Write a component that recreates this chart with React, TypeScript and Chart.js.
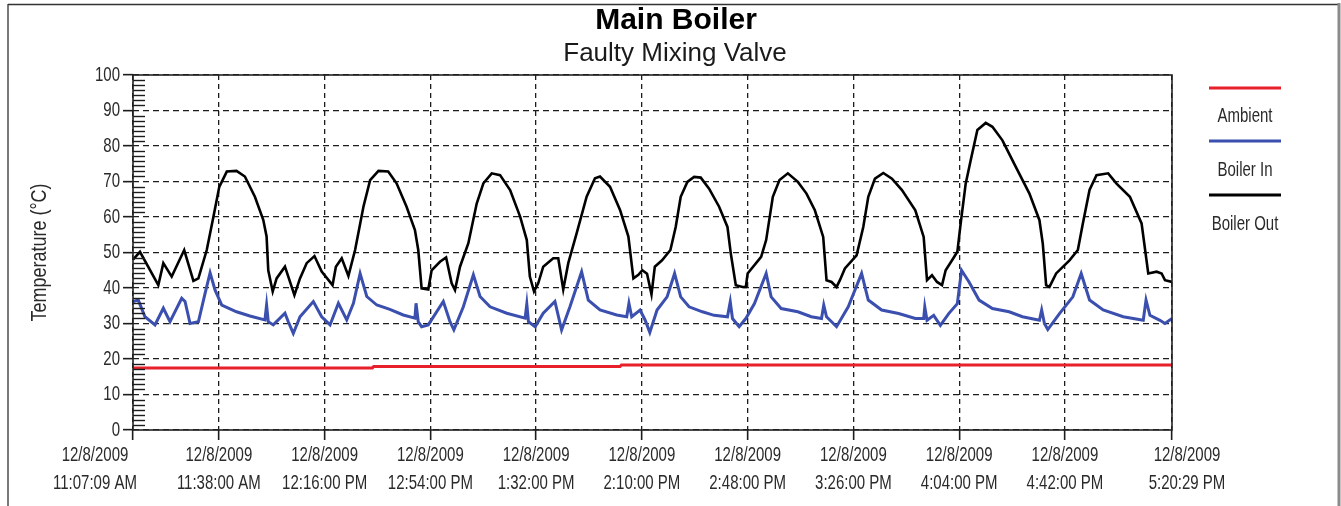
import React, { useEffect, useRef } from 'react';
import { Chart, registerables } from 'chart.js';

Chart.register(...registerables);

const TITLE = 'Main Boiler';
const SUBTITLE = 'Faulty Mixing Valve';
const Y_TITLE = 'Temperature (°C)';
const SERIES_NAMES = ['Ambient', 'Boiler In', 'Boiler Out'];
const SERIES_COLORS = ['#e8202a', '#3b4fae', '#000000'];

// minutes elapsed since 12/8/2009 11:07:09 AM
const X_TICK_MINUTES = [0, 30.85, 68.85, 106.85, 144.85, 182.85, 220.85, 258.85, 296.85, 334.85, 373.33];
const X_TICK_DATE = '12/8/2009';
const X_TICK_TIMES = ['11:07:09 AM', '11:38:00 AM', '12:16:00 PM', '12:54:00 PM', '1:32:00 PM', '2:10:00 PM', '2:48:00 PM', '3:26:00 PM', '4:04:00 PM', '4:42:00 PM', '5:20:29 PM'];
const Y_TICKS = [0, 10, 20, 30, 40, 50, 60, 70, 80, 90, 100];

const AMBIENT_T = [0, 86, 86.5, 175, 175.5, 373.33];
const AMBIENT_V = [17.5, 17.5, 17.9, 17.9, 18.3, 18.3];

const BOILER_IN_T = [0, 1.9, 4.3, 7.9, 10.9, 13.3, 17.5, 18.7, 20.5, 23.5, 25.9, 27.7, 29.5, 31.9, 37.2, 42.0, 47.4, 48.0, 48.6, 50.4, 54.6, 55.8, 57.6, 60.0, 64.8, 67.8, 70.8, 73.8, 76.8, 79.2, 81.6, 84.0, 87.6, 92.3, 97.1, 101.3, 101.7, 102.5, 103.7, 106.1, 111.5, 113.9, 115.3, 118.7, 122.3, 124.7, 128.3, 134.3, 140.9, 141.5, 142.1, 144.5, 147.4, 151.6, 154.0, 157.0, 161.2, 163.6, 167.8, 173.8, 177.4, 178.2, 179.2, 182.2, 184.0, 185.7, 188.3, 191.9, 194.6, 196.8, 199.8, 204.6, 208.8, 213.6, 214.6, 215.4, 217.8, 220.2, 223.3, 227.5, 229.3, 232.9, 238.9, 243.7, 247.4, 248.2, 249.2, 252.8, 257.0, 261.8, 264.2, 269.0, 275.1, 281.1, 284.1, 284.5, 285.3, 287.7, 290.1, 293.1, 296.2, 297.7, 300.4, 304.0, 308.8, 314.8, 319.6, 325.7, 326.5, 327.5, 328.7, 332.9, 337.7, 340.7, 343.7, 348.6, 355.8, 363.0, 364.0, 365.4, 369.0, 370.8, 373.33];
const BOILER_IN_V = [36.2, 36.6, 31.9, 29.6, 34.3, 30.5, 37.1, 36.2, 30.0, 30.5, 38.5, 44.3, 39.4, 35.2, 33.3, 32.1, 31.0, 35.2, 30.5, 29.6, 32.9, 30.5, 27.2, 31.9, 36.2, 31.9, 29.6, 35.7, 31.0, 35.7, 44.1, 37.6, 35.2, 34.0, 32.4, 31.5, 35.7, 30.5, 29.1, 29.6, 36.2, 30.5, 28.2, 34.7, 43.7, 37.6, 34.7, 32.9, 31.5, 35.5, 30.5, 29.1, 32.9, 36.2, 28.2, 34.7, 44.6, 36.6, 33.8, 32.4, 31.9, 35.7, 31.9, 33.8, 31.0, 27.5, 33.8, 37.5, 44.1, 37.5, 34.7, 33.3, 32.3, 31.9, 36.1, 31.4, 29.1, 31.4, 35.6, 44.1, 37.5, 34.2, 33.3, 31.9, 31.4, 35.2, 31.9, 29.1, 34.7, 44.1, 36.6, 33.8, 32.8, 31.4, 31.4, 34.7, 30.9, 32.3, 29.5, 32.8, 35.6, 45.0, 41.7, 36.6, 34.2, 33.3, 31.9, 30.9, 33.8, 30.0, 28.3, 32.8, 37.5, 44.1, 36.6, 33.8, 31.9, 30.9, 36.6, 32.3, 30.9, 30.0, 31.4];

const BOILER_OUT_T = [0, 2.5, 9.1, 10.9, 13.9, 18.4, 21.7, 23.5, 26.5, 28.9, 31.0, 33.7, 37.2, 40.2, 43.8, 46.8, 48.0, 48.6, 50.2, 51.6, 54.6, 55.8, 58.0, 60.0, 62.4, 65.2, 67.8, 71.7, 72.9, 75.0, 77.4, 79.8, 82.8, 85.2, 88.2, 91.7, 94.7, 98.3, 101.3, 102.5, 103.7, 106.1, 107.3, 110.3, 112.5, 114.5, 115.7, 117.5, 120.5, 123.5, 125.9, 128.9, 131.9, 135.5, 139.1, 141.5, 142.6, 144.1, 145.6, 147.4, 151.0, 152.8, 154.6, 156.4, 159.4, 163.0, 166.0, 167.8, 171.4, 175.0, 178.0, 179.8, 181.6, 183.0, 184.7, 186.3, 187.5, 190.1, 193.1, 195.0, 196.8, 199.2, 201.6, 204.0, 207.0, 210.6, 213.6, 214.8, 216.6, 219.0, 220.2, 220.85, 225.7, 227.5, 229.9, 232.3, 235.3, 238.9, 242.0, 245.0, 248.0, 249.2, 251.0, 252.8, 254.0, 255.8, 260.0, 262.4, 264.2, 266.6, 269.6, 272.7, 276.3, 281.1, 284.1, 285.3, 287.1, 288.9, 290.7, 292.0, 294.3, 296.2, 297.4, 299.2, 301.0, 303.4, 306.4, 308.8, 312.4, 317.2, 322.1, 325.7, 326.9, 328.1, 329.3, 331.7, 336.5, 339.5, 341.3, 343.7, 346.2, 350.4, 353.4, 358.2, 362.4, 364.8, 367.8, 369.6, 370.8, 373.33];
const BOILER_OUT_V = [48.0, 50.2, 40.8, 47.0, 43.2, 50.7, 42.0, 42.7, 50.7, 60.1, 68.5, 72.8, 73.0, 71.4, 65.7, 59.2, 54.5, 45.0, 39.0, 42.7, 46.0, 43.2, 38.0, 42.7, 47.0, 49.0, 44.6, 40.8, 46.0, 48.4, 43.4, 50.7, 62.9, 70.4, 73.0, 72.8, 69.5, 62.9, 56.3, 50.7, 39.9, 39.6, 45.0, 47.4, 48.6, 41.3, 39.4, 46.0, 52.6, 63.8, 69.5, 72.3, 71.8, 67.6, 60.1, 53.5, 43.2, 39.0, 41.3, 46.0, 48.4, 48.4, 39.6, 47.0, 55.4, 65.7, 70.9, 71.4, 68.5, 62.0, 54.5, 42.7, 43.7, 45.0, 44.0, 38.2, 46.0, 47.8, 50.7, 57.2, 65.7, 69.9, 71.3, 71.1, 68.0, 62.9, 57.2, 49.7, 40.8, 40.3, 40.3, 44.1, 48.8, 53.5, 65.7, 70.4, 72.3, 69.9, 66.6, 61.9, 54.4, 42.2, 41.7, 40.3, 42.2, 45.5, 49.2, 57.2, 65.7, 70.8, 72.4, 70.8, 67.6, 61.9, 54.4, 42.2, 43.6, 41.7, 40.8, 45.0, 47.8, 50.2, 58.2, 69.4, 76.0, 84.5, 86.5, 85.4, 81.6, 74.1, 66.6, 59.1, 52.5, 40.8, 40.3, 44.1, 47.8, 50.7, 58.2, 67.6, 71.8, 72.3, 69.4, 65.7, 58.2, 44.1, 44.6, 44.1, 42.2, 41.7];

const SANS = "'Liberation Sans', Arial, sans-serif";
const TEXT_COLOR = '#2a2a2a';
const GRID_COLOR = '#1c1c1c';
const STRETCH = 1.4; // tall, narrow look of the original labels

const toPoints = (t: number[], v: number[]) => t.map((x, i) => ({ x, y: v[i] }));

function tallText(ctx: any, text: string, x: number, y: number, size: number, align: string, stretch: number, rotate = 0) {
  ctx.save();
  ctx.translate(x, y);
  if (rotate) ctx.rotate(rotate);
  ctx.scale(1, stretch);
  ctx.font = `${size}px ${SANS}`;
  ctx.fillStyle = TEXT_COLOR;
  ctx.textAlign = align;
  ctx.textBaseline = 'middle';
  ctx.fillText(text, 0, 0);
  ctx.restore();
}

const decor = {
  id: 'decor',
  beforeDraw(chart: any) {
    const ctx = chart.ctx;
    ctx.save();
    ctx.fillStyle = '#ffffff';
    ctx.fillRect(0, 0, chart.width, chart.height);
    ctx.strokeStyle = '#7a7a7a';
    ctx.lineWidth = 2;
    ctx.beginPath();
    ctx.moveTo(8, 506);
    ctx.lineTo(8, 4);
    ctx.stroke();
    ctx.strokeStyle = '#333333';
    ctx.lineWidth = 1.5;
    ctx.beginPath();
    ctx.moveTo(8, 4.5);
    ctx.lineTo(1338, 4.5);
    ctx.stroke();
    ctx.strokeStyle = '#8a8a8a';
    ctx.lineWidth = 3;
    ctx.beginPath();
    ctx.moveTo(1339, 3);
    ctx.lineTo(1339, 506);
    ctx.stroke();

    ctx.fillStyle = '#000';
    ctx.textAlign = 'center';
    ctx.textBaseline = 'middle';
    ctx.font = `bold 30px ${SANS}`;
    ctx.fillText(TITLE, 676, 21);
    ctx.fillStyle = '#1a1a1a';
    ctx.font = `26px ${SANS}`;
    ctx.fillText(SUBTITLE, 675, 54);
    ctx.restore();
  },
  afterDatasetsDraw(chart: any) {
    const ctx = chart.ctx;
    const { left, top, right, bottom } = chart.chartArea;
    const y = chart.scales.y;
    const x = chart.scales.x;
    ctx.save();
    ctx.strokeStyle = GRID_COLOR;
    ctx.lineWidth = 1.4;
    for (let i = 1; i < 70; i++) {
      if (i % 7 === 0) continue;
      const py = Math.round(y.getPixelForValue((i * 10) / 7)) + 0.5;
      ctx.beginPath();
      ctx.moveTo(left, py);
      ctx.lineTo(left + 12, py);
      ctx.stroke();
    }
    ctx.strokeStyle = '#222';
    ctx.lineWidth = 1.6;
    ctx.strokeRect(left, top, right - left, bottom - top);
    ctx.restore();

    // y tick labels
    Y_TICKS.forEach((v) => {
      tallText(ctx, String(v), left - 13, y.getPixelForValue(v), 15, 'right', STRETCH);
    });
    // x tick labels (end labels nudged outward as in the original)
    X_TICK_MINUTES.forEach((v, i) => {
      let px = x.getPixelForValue(v);
      if (i === 0) px -= 38;
      if (i === X_TICK_MINUTES.length - 1) px += 15;
      tallText(ctx, X_TICK_DATE, px, 455, 15, 'center', STRETCH);
      tallText(ctx, X_TICK_TIMES[i], px, 483, 15, 'center', STRETCH);
    });
    // y axis title
    tallText(ctx, Y_TITLE, 40, (top + bottom) / 2, 18, 'center', 1.25, -Math.PI / 2);
  },
  afterDraw(chart: any) {
    const ctx = chart.ctx;
    ctx.save();
    const lineY = [88, 141, 195];
    const textY = [116, 170, 224];
    SERIES_NAMES.forEach((name, i) => {
      ctx.strokeStyle = SERIES_COLORS[i];
      ctx.lineWidth = 3;
      ctx.beginPath();
      ctx.moveTo(1209, lineY[i]);
      ctx.lineTo(1281, lineY[i]);
      ctx.stroke();
      tallText(ctx, name, 1245, textY[i], 15, 'center', STRETCH);
    });
    ctx.restore();
  },
};

export default function App() {
  const ref = useRef<HTMLCanvasElement | null>(null);
  useEffect(() => {
    document.body.style.margin = '0';
    if (!ref.current) return;
    const chart = new Chart(ref.current, {
      type: 'line',
      data: {
        datasets: [
          { label: SERIES_NAMES[0], data: toPoints(AMBIENT_T, AMBIENT_V), borderColor: SERIES_COLORS[0], borderWidth: 3, pointRadius: 0, tension: 0, fill: false },
          { label: SERIES_NAMES[1], data: toPoints(BOILER_IN_T, BOILER_IN_V), borderColor: SERIES_COLORS[1], borderWidth: 3, pointRadius: 0, tension: 0, fill: false },
          { label: SERIES_NAMES[2], data: toPoints(BOILER_OUT_T, BOILER_OUT_V), borderColor: SERIES_COLORS[2], borderWidth: 2.6, pointRadius: 0, tension: 0, fill: false },
        ],
      },
      options: {
        animation: false,
        responsive: false,
        devicePixelRatio: 1,
        layout: { padding: { top: 75, right: 169, left: 0, bottom: 0 } },
        plugins: { legend: { display: false }, title: { display: false }, tooltip: { enabled: false } },
        scales: {
          x: {
            type: 'linear',
            min: 0,
            max: X_TICK_MINUTES[X_TICK_MINUTES.length - 1],
            afterBuildTicks: (s: any) => {
              s.ticks = X_TICK_MINUTES.map((value) => ({ value }));
            },
            afterFit: (s: any) => {
              s.height = 76;
            },
            ticks: { display: false, autoSkip: false, maxRotation: 0, minRotation: 0 },
            grid: { color: GRID_COLOR, lineWidth: 1.3, tickLength: 10, tickColor: GRID_COLOR, tickWidth: 1.6 },
            border: { display: false, dash: [5, 4] },
          },
          y: {
            min: 0,
            max: 100,
            afterBuildTicks: (s: any) => {
              s.ticks = Y_TICKS.map((value) => ({ value }));
            },
            afterFit: (s: any) => {
              s.width = 133;
            },
            ticks: { display: false },
            grid: { color: GRID_COLOR, lineWidth: 1.3, tickLength: 10, tickColor: GRID_COLOR, tickWidth: 1.6 },
            border: { display: false, dash: [6, 4] },
          },
        },
      },
      plugins: [decor],
    } as any);
    return () => chart.destroy();
  }, []);
  return (
    <div style={{ width: 1341, height: 506 }}>
      <canvas ref={ref} width={1341} height={506} style={{ display: 'block' }} />
    </div>
  );
}
